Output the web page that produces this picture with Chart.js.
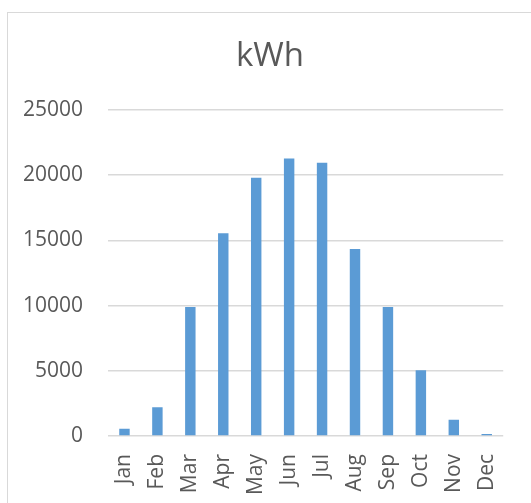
<!DOCTYPE html>
<html>
<head>
<meta charset="utf-8">
<script src="https://cdn.jsdelivr.net/npm/chart.js@4.4.1/dist/chart.umd.min.js"></script>
<style>
html, body { margin: 0; padding: 0; background: #fff; }
#frame { position: absolute; left: 7px; top: 12px; width: 524px; height: 491px;
  border-top: 1px solid #d9d9d9; border-left: 1px solid #d9d9d9; }
#wrap { position: absolute; left: 0; top: 0; width: 531px; height: 503px; }
</style>
</head>
<body>
<div id="frame"></div>
<div id="wrap"><canvas id="chart" width="531" height="503"></canvas></div>
<script>
var months = ["Jan", "Feb", "Mar", "Apr", "May", "Jun", "Jul", "Aug", "Sep", "Oct", "Nov", "Dec"];
var kwh = [550, 2200, 9900, 15550, 19800, 21280, 20950, 14350, 9900, 5050, 1250, 150];
var yTicks = [0, 5000, 10000, 15000, 20000, 25000];

var textColor = '#595959';
var gridColor = '#d9d9d9';

// title is centred on the whole frame, not on the padded layout box
var titleShift = {
    id: 'titleShift',
    afterLayout: function (chart) {
        if (chart.titleBlock) chart.titleBlock.left += 34.5;
    }
};

var ctx = document.getElementById("chart");

var chartGraph = new Chart(ctx, {
    type: 'bar',
    data: {
        labels: months,
        datasets: [{
            label: "kWh",
            data: kwh,
            backgroundColor: '#5b9bd5',
            borderWidth: 0,
            barPercentage: 0.317,
            categoryPercentage: 1
        }]
    },
    plugins: [titleShift],
    options: {
        responsive: false,
        animation: false,
        layout: { padding: { left: 0, right: 25.5, top: 0, bottom: 0 } },
        plugins: {
            legend: { display: false },
            tooltip: { enabled: false },
            title: {
                display: true,
                text: 'kWh',
                color: textColor,
                font: { family: "'Open Sans'", size: 33, weight: 'normal' },
                padding: { top: 37, bottom: 33.4 }
            }
        },
        scales: {
            y: {
                min: yTicks[0],
                max: yTicks[yTicks.length - 1],
                afterBuildTicks: function (scale) {
                    scale.ticks = yTicks.map(function (v) { return { value: v }; });
                },
                afterFit: function (scale) { scale.width = 108; },
                ticks: {
                    color: textColor,
                    font: { family: "'Open Sans'", size: 21 },
                    padding: 25,
                    callback: function (v) { return String(v); }
                },
                grid: { color: gridColor, lineWidth: 1.5, drawTicks: false },
                border: { display: false }
            },
            x: {
                afterFit: function (scale) { scale.height = 67; },
                ticks: {
                    color: textColor,
                    font: { family: "'Open Sans'", size: 21 },
                    minRotation: 90,
                    maxRotation: 90,
                    padding: 18
                },
                grid: { display: false, drawTicks: false },
                border: { display: false }
            }
        }
    }
});
</script>
</body>
</html>
